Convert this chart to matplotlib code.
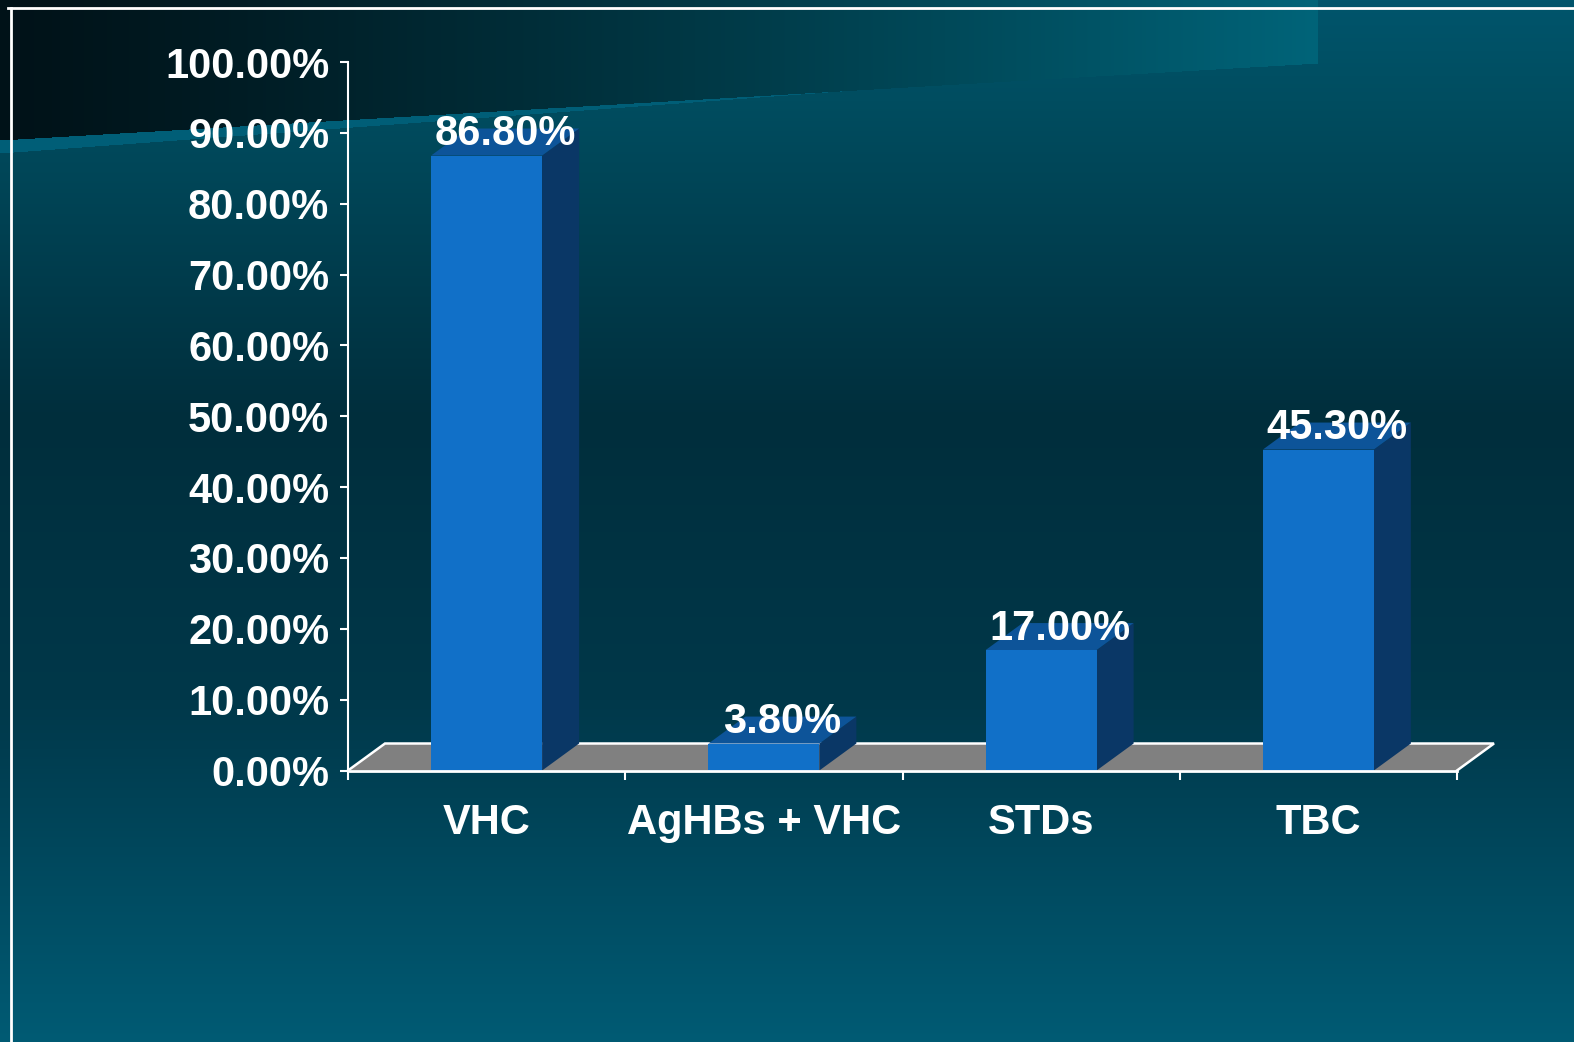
import numpy as np
import matplotlib
matplotlib.use("Agg")
import matplotlib.pyplot as plt
from matplotlib.patches import Polygon

# ---------------- data ----------------
categories = ["VHC", "AgHBs + VHC", "STDs", "TBC"]
values = [86.8, 3.8, 17.0, 45.3]
value_labels = ["86.80%", "3.80%", "17.00%", "45.30%"]
y_ticks = [0, 10, 20, 30, 40, 50, 60, 70, 80, 90, 100]
y_tick_labels = ["0.00%", "10.00%", "20.00%", "30.00%", "40.00%", "50.00%",
                 "60.00%", "70.00%", "80.00%", "90.00%", "100.00%"]

plt.rcParams['font.family'] = ['Liberation Sans', 'DejaVu Sans']
plt.rcParams['font.weight'] = 'bold'

W, H = 1574, 1042
fig = plt.figure(figsize=(W / 100, H / 100), dpi=100)

# ---------------- background ----------------
bg = fig.add_axes([0, 0, 1, 1])
bg.set_axis_off()
ys = np.arange(H)
xs = np.arange(W)
stops_y = [0, 100, 420, 700, 1042]
cols = np.array([(0x00, 0x55, 0x6c), (0x00, 0x4d, 0x60), (0x00, 0x2e, 0x3c),
                 (0x00, 0x38, 0x4a), (0x00, 0x5b, 0x74)], float) / 255
vert = np.stack([np.interp(ys, stops_y, cols[:, c]) for c in range(3)], axis=1)
img = np.repeat(vert[:, None, :], W, axis=1)
YY, XX = np.meshgrid(ys, xs, indexing='ij')
yline = 140 - 0.0584 * XX
upper = (YY < yline) & (XX < 1318)
t = np.clip(XX / 1318.0, 0, 1) ** 1.2
c0 = np.array([0x00, 0x12, 0x18]) / 255
c1 = np.array([0x00, 0x64, 0x79]) / 255
hor = c0[None, None, :] * (1 - t[..., None]) + c1[None, None, :] * t[..., None]
img[upper] = hor[upper]
thick = np.clip(13 * (1 - XX / 850.0), 0, None)
stripe = (YY >= yline) & (YY < yline + thick)
sc = np.array([0x00, 0x5e, 0x77]) / 255
img[stripe] = sc
bg.imshow(img, extent=[0, W, H, 0], aspect='auto', interpolation='bilinear')
bg.plot([8, W], [8, 8], color='white', lw=2)
bg.plot([11, 11], [8, H], color='white', lw=2)
bg.set_xlim(0, W)
bg.set_ylim(H, 0)

# ---------------- main axes ----------------
x_left, x_right, y_zero, y_full = 348, 1457, 770.5, 62
ax = fig.add_axes([x_left / W, 1 - y_zero / H, (x_right - x_left) / W, (y_zero - y_full) / H])
ax.patch.set_alpha(0)
n = len(categories)
ax.set_xlim(0, n)
ax.set_ylim(0, 100)

px_x = (x_right - x_left) / n
px_y = (y_zero - y_full) / 100
dx = 37 / px_x
dy = 27 / px_y
bw = 111 / px_x

# floor
floor = Polygon([(0, 0), (n, 0), (n + dx, dy), (dx, dy)], closed=True,
                fc='#808080', ec='none', zorder=1, clip_on=False)
ax.add_patch(floor)
ax.plot([0, dx, n + dx, n], [0, dy, dy, 0], color='white', lw=1.8,
        zorder=1.5, clip_on=False, solid_joinstyle='miter')

# bars
centers = np.arange(n) + 0.5
bars = ax.bar(centers, values, width=bw, color='#1170c8', zorder=4, clip_on=False)
for b, v in zip(bars, values):
    x0 = b.get_x()
    x1 = x0 + b.get_width()
    side = Polygon([(x1, 0), (x1 + dx, dy), (x1 + dx, v + dy), (x1, v)],
                   closed=True, fc='#0a3766', ec='none', zorder=3, clip_on=False)
    top = Polygon([(x0, v), (x1, v), (x1 + dx, v + dy), (x0 + dx, v + dy)],
                  closed=True, fc='#0d5499', ec='none', zorder=3, clip_on=False)
    ax.add_patch(side)
    ax.add_patch(top)

for c, v, lab in zip(centers, values, value_labels):
    ax.annotate(lab, xy=(c + dx / 2, v), xytext=(0, 7.5), textcoords='offset points',
                ha='center', va='baseline', color='white', fontsize=30,
                fontweight='bold', zorder=6, annotation_clip=False)

# axes styling
for s in ['top', 'right']:
    ax.spines[s].set_visible(False)
ax.spines['left'].set_color('white')
ax.spines['left'].set_linewidth(1.5)
ax.spines['bottom'].set_color('white')
ax.spines['bottom'].set_linewidth(2)
ax.spines['bottom'].set_zorder(5)

ax.set_yticks(y_ticks)
ax.set_yticklabels(y_tick_labels)
ax.tick_params(axis='y', direction='out', length=6, width=1.5, color='white',
               labelcolor='white', labelsize=30, pad=7.5)

ax.set_xticks(np.arange(n + 1))
ax.set_xticklabels([''] * (n + 1))
ax.tick_params(axis='x', which='major', direction='out', length=6.5, width=1.5,
               color='white')
ax.set_xticks(centers, minor=True)
ax.set_xticklabels(categories, minor=True)
ax.tick_params(axis='x', which='minor', length=0, labelcolor='white',
               labelsize=30, pad=23.5)
for lab in ax.get_xticklabels(minor=True) + ax.get_yticklabels():
    lab.set_fontweight('bold')

fig.savefig('out.png', dpi=100)
